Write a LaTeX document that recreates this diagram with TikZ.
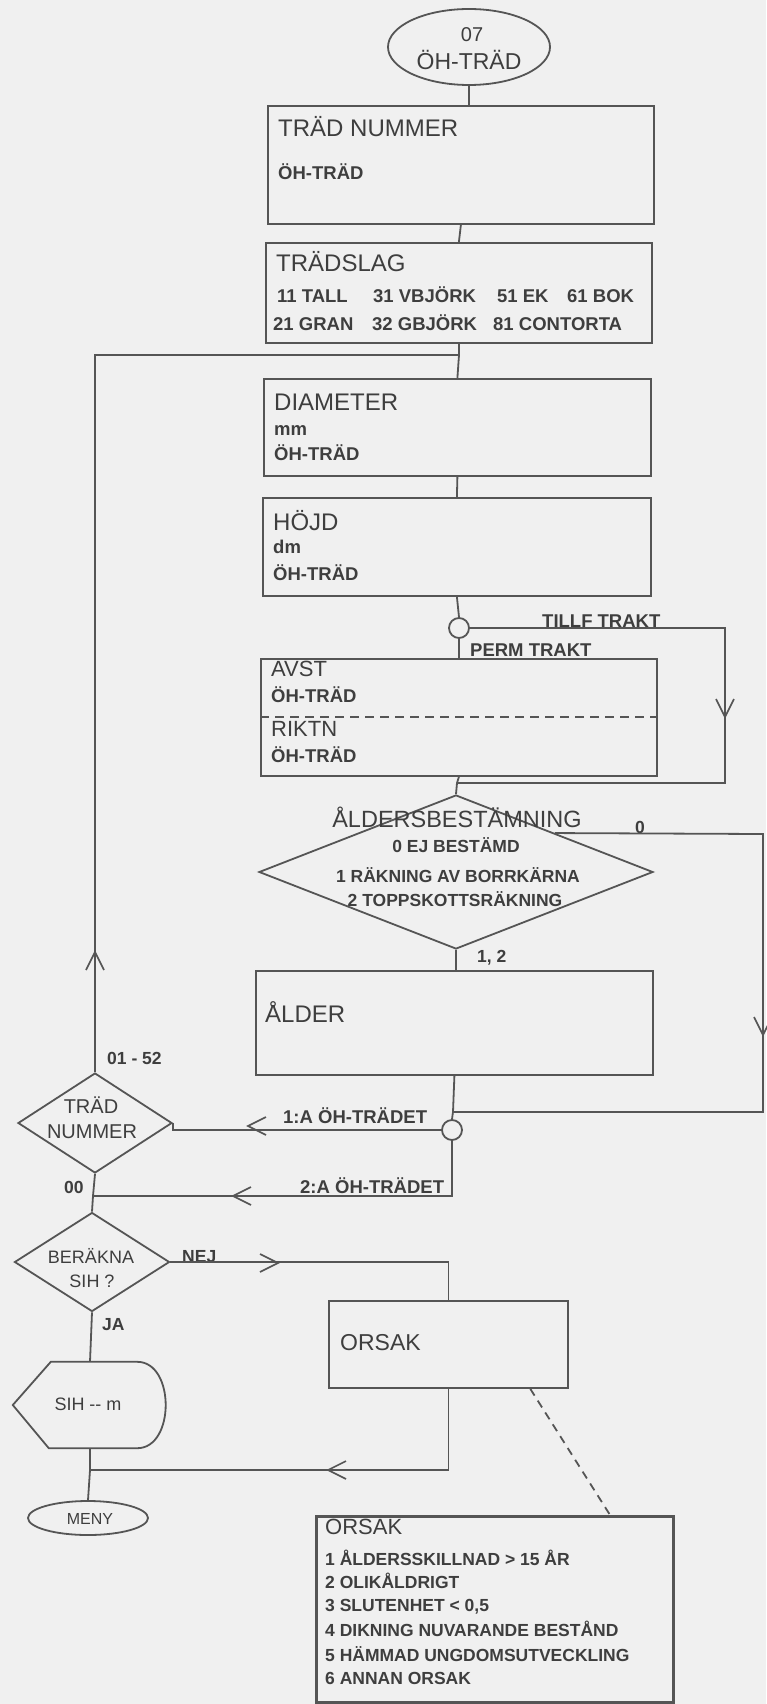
\documentclass[tikz,border=0pt]{standalone}
\usepackage{fontspec}
\setmainfont{Liberation Sans}
\usetikzlibrary{shapes.geometric,calc}
\definecolor{bgc}{RGB}{240,240,240}
\definecolor{ink}{RGB}{85,85,85}
\definecolor{txt}{RGB}{62,62,62}
\newcommand\fT{\fontsize{24}{26}\selectfont}
\newcommand\fS{\fontsize{18.5}{20}\selectfont\bfseries}
\newcommand\fL{\fontsize{17.5}{19}\selectfont\bfseries}
\begin{document}
\begin{tikzpicture}[x=1pt,y=-1pt,
  line/.style={draw=ink,line width=1.8pt},
  conn/.style={draw=ink,line width=1.8pt},
  boxn/.style={line,rectangle,inner sep=0pt,anchor=north west},
  dia/.style={line,diamond,inner sep=0pt},
  ell/.style={line,ellipse,inner sep=0pt},
  lbl/.style={text=txt,inner sep=0pt},
  chev/.pic={\draw[draw=ink,line width=1.6pt] (-18,-9) -- (0,0) -- (-18,9);}
]
\fill[bgc] (0,0) rectangle (766,1704);
\useasboundingbox (0,0) rectangle (766,1704);

% ---------- start ellipse
\node[ell,minimum width=162pt,minimum height=76pt] (start) at (469,47) {};
\node[lbl,anchor=base] (t07) at (472,42) {\fontsize{20}{22}\selectfont 07};
\node[lbl,anchor=base] (tst) at (469,70) {\fontsize{23}{25}\selectfont ÖH-TRÄD};

% ---------- boxes
\node[boxn,minimum width=386pt,minimum height=118pt] (b1) at (267,105) {};
\node[lbl,anchor=base west] (b1a) at (278,137) {\fT TRÄD NUMMER};
\node[lbl,anchor=base west] (b1b) at (278,180) {\fS ÖH-TRÄD};

\node[boxn,minimum width=386pt,minimum height=100pt] (b2) at (265,242) {};
\node[lbl,anchor=base west] (b2a) at (276,272) {\fT TRÄDSLAG};
\node[lbl,anchor=base west] (b2b) at (277,302) {\fS 11 TALL};
\node[lbl,anchor=base west] (b2c) at (373,302) {\fS 31 VBJÖRK};
\node[lbl,anchor=base west] (b2d) at (497,302) {\fS 51 EK};
\node[lbl,anchor=base west] (b2e) at (567,302) {\fS 61 BOK};
\node[lbl,anchor=base west] (b2f) at (273,330) {\fS 21 GRAN};
\node[lbl,anchor=base west] (b2g) at (372,330) {\fS 32 GBJÖRK};
\node[lbl,anchor=base west] (b2h) at (493,330) {\fS 81 CONTORTA};

\node[boxn,minimum width=387pt,minimum height=97pt] (b3) at (263,378) {};
\node[lbl,anchor=base west] (b3a) at (274,410) {\fT DIAMETER};
\node[lbl,anchor=base west] (b3b) at (274,435) {\fS mm};
\node[lbl,anchor=base west] (b3c) at (274,460) {\fS ÖH-TRÄD};

\node[boxn,minimum width=388pt,minimum height=98pt] (b4) at (262,497) {};
\node[lbl,anchor=base west] (b4a) at (273,530) {\fT HÖJD};
\node[lbl,anchor=base west] (b4b) at (273,553) {\fS dm};
\node[lbl,anchor=base west] (b4c) at (273,580) {\fS ÖH-TRÄD};

\node[line,circle,inner sep=0pt,minimum size=20pt] (c1) at (459,628) {};

\node[boxn,minimum width=396pt,minimum height=117pt] (b5) at (260,658) {};
\draw[draw=ink,line width=1.6pt,dash pattern=on 9pt off 6pt] (b5.west |- 0,717) -- (b5.east |- 0,717);
\node[lbl,anchor=base west] (b5a) at (271,676) {\fontsize{22}{24}\selectfont AVST};
\node[lbl,anchor=base west] (b5b) at (271,702) {\fS ÖH-TRÄD};
\node[lbl,anchor=base west] (b5c) at (271,736) {\fontsize{22}{24}\selectfont RIKTN};
\node[lbl,anchor=base west] (b5d) at (271,762) {\fS ÖH-TRÄD};

\node[lbl,anchor=base west] (ltillf) at (542,627) {\fS TILLF TRAKT};
\node[lbl,anchor=base west] (lperm) at (470,656) {\fS PERM TRAKT};

% ---------- age diamond
\node[dia,minimum width=394pt,minimum height=154pt] (d1) at (456,872) {};
\node[lbl,anchor=base] (d1a) at (457,827) {\fontsize{23.5}{25}\selectfont ÅLDERSBESTÄMNING};
\node[lbl,anchor=base] (d1b) at (456,852) {\fL 0 EJ BESTÄMD};
\node[lbl,anchor=base] (d1c) at (458,882) {\fL 1 RÄKNING AV BORRKÄRNA};
\node[lbl,anchor=base] (d1d) at (455,906) {\fL 2 TOPPSKOTTSRÄKNING};
\node[lbl,anchor=base] (l0) at (640,833) {\fL 0};
\node[lbl,anchor=base west] (l12) at (477,962) {\fL 1, 2};

\node[boxn,minimum width=397pt,minimum height=104pt] (b6) at (255,970) {};
\node[lbl,anchor=base west] (b6a) at (265,1022) {\fT ÅLDER};

\node[line,circle,inner sep=0pt,minimum size=20pt] (c2) at (452,1130) {};

% ---------- left column
\node[dia,minimum width=154pt,minimum height=100pt] (d2) at (95,1123) {};
\node[lbl,anchor=base] (d2a) at (91,1113) {\fontsize{20}{22}\selectfont TRÄD};
\node[lbl,anchor=base] (d2b) at (92,1138) {\fontsize{20}{22}\selectfont NUMMER};
\node[lbl,anchor=base west] (l0152) at (107,1064) {\fL 01 - 52};
\node[lbl,anchor=base west] (l00) at (64,1193) {\fL 00};
\node[lbl,anchor=base west] (l1a) at (283,1123) {\fS 1:A ÖH-TRÄDET};
\node[lbl,anchor=base west] (l2a) at (300,1193) {\fS 2:A ÖH-TRÄDET};

\node[dia,minimum width=155pt,minimum height=99pt] (d3) at (92,1262) {};
\node[lbl,anchor=base] (d3a) at (91,1263) {\fontsize{18}{20}\selectfont BERÄKNA};
\node[lbl,anchor=base] (d3b) at (92,1287) {\fontsize{18}{20}\selectfont SIH ?};
\node[lbl,anchor=base west] (lnej) at (182,1262) {\fL NEJ};
\node[lbl,anchor=base west] (lja) at (102,1330) {\fL JA};

\node[inner sep=0pt,minimum width=154pt,minimum height=86pt] (hex) at (90,1405) {};
\draw[line] (hex.west) -- ($(hex.north west)+(38,0)$) -- ($(hex.north east)+(-30,0)$)
  .. controls ($(hex.north east)+(8,0)$) and ($(hex.south east)+(8,0)$) .. ($(hex.south east)+(-30,0)$)
  -- ($(hex.south west)+(36,0)$) -- cycle;
\node[lbl] (hext) at (88,1404) {\fontsize{18}{20}\selectfont SIH -{}- m};

\node[ell,minimum width=120pt,minimum height=34pt] (meny) at (88,1518) {};
\node[lbl] (menyt) at (90,1519) {\fontsize{16}{18}\selectfont MENY};

\node[boxn,minimum width=239pt,minimum height=87pt] (b7) at (328,1300) {};
\node[lbl,anchor=base west] (b7a) at (340,1350) {\fontsize{23}{25}\selectfont ORSAK};

\node[boxn,line width=2.8pt,minimum width=357pt,minimum height=186pt] (b8) at (315,1515) {};
\node[lbl,anchor=base west] (b8a) at (325,1534) {\fontsize{22}{24}\selectfont ORSAK};
\node[lbl,anchor=base west] (b8b) at (325,1565) {\fL 1 ÅLDERSSKILLNAD > 15 ÅR};
\node[lbl,anchor=base west] (b8c) at (325,1588) {\fL 2 OLIKÅLDRIGT};
\node[lbl,anchor=base west] (b8d) at (325,1611) {\fL 3 SLUTENHET < 0,5};
\node[lbl,anchor=base west] (b8e) at (325,1636) {\fL 4 DIKNING NUVARANDE BESTÅND};
\node[lbl,anchor=base west] (b8f) at (325,1661) {\fL 5 HÄMMAD UNGDOMSUTVECKLING};
\node[lbl,anchor=base west] (b8g) at (325,1684) {\fL 6 ANNAN ORSAK};

% ---------- junction coordinates
\coordinate (j1) at (459,355);
\coordinate (j2) at (457,783);
\coordinate (j4) at (453,1112);
\coordinate (j5) at (93,1196);
\coordinate (j6) at (90,1470);

% ---------- connectors
\draw[conn] (start.south) -- (start.south |- b1.north);
\draw[conn] (b1.south) -- (b2.north);
\draw[conn] (b2.south) -- (j1) -- (b3.north);
\draw[conn] (b3.south) -- (b4.north);
\draw[conn] (b4.south) -- (c1.north);
\draw[conn] (c1.south) -- (c1.south |- b5.north);
\draw[conn] (c1.east) -- (725,628) -- (725,783) -- (j2);
\draw[conn] (b5.south) -- (j2) -- (d1.north);
\draw[conn] ($(d1.north)!0.5!(d1.east)$) -- (763,834) -- (763,1112) -- (j4);
\draw[conn] (d1.south) -- (d1.south |- b6.north);
\draw[conn] (b6.south) -- (j4) -- (c2.north);
\draw[conn] (c2.west) -- (c2.west -| d2.east) -- (d2.east);
\draw[conn] (c2.south) -- (c2.south |- j5) -- (j5);
\draw[conn] (d2.north) -- (d2.north |- j1) -- (j1);
\draw[conn] (d2.south) -- (j5) -- (d3.north);
\draw[conn] (d3.east) -- (d3.east -| b7.north) -- (b7.north);
\draw[conn] (d3.south) -- (hex.south |- hex.north);
\draw[conn] (hex.south) -- (j6) -- (meny.north);
\draw[conn] (b7.south) -- (b7.south |- j6) -- (j6);
\draw[draw=ink,line width=1.8pt,dash pattern=on 8pt off 6pt]
  ($(b7.south west)!0.84!(b7.south east)$) -- ($(b8.north west)!0.82!(b8.north east)$);

% ---------- chevrons
\pic[rotate=-90] at (725,717) {chev};
\pic[rotate=-90] at (763,1035) {chev};
\pic[rotate=90] at (95,952) {chev};
\pic[rotate=180] at (248,1126) {chev};
\pic[rotate=180] at (233,1196) {chev};
\pic at (278,1263) {chev};
\pic[rotate=180] at (328,1470) {chev};
\end{tikzpicture}
\end{document}
